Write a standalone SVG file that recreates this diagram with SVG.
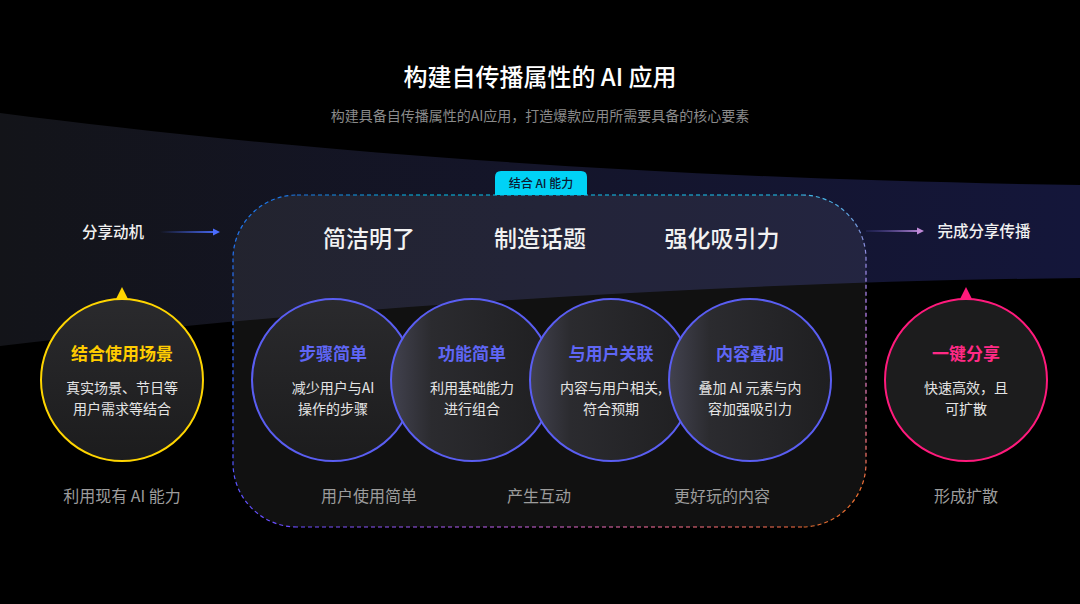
<svg xmlns="http://www.w3.org/2000/svg" width="1080" height="604" viewBox="0 0 1080 604">
<defs>
<style>
text{font-family:"Noto Sans CJK SC","Noto Sans",sans-serif;text-anchor:middle}
.title{font-size:24px;font-weight:500;fill:#ffffff}
.sub{font-size:14px;fill:#8a8a8a}
.side{font-size:15.5px;font-weight:500;fill:#f0f0f0}
.head{font-size:23px;font-weight:500;fill:#f2f2f2}
.ct{font-size:17px;font-weight:700}
.cb{font-size:14px;fill:#e4e4e4}
.bot{font-size:16px;fill:#9c9c9c}
.tab{font-size:12px;font-weight:500;fill:#0b1a33}
.dash{fill:none;stroke-width:1.2;stroke-dasharray:4 3}
.blue{stroke:#5a5ef2;stroke-width:2}
.bt{fill:#5f66f5}
</style>
<linearGradient id="band" x1="0" y1="0" x2="1" y2="0">
<stop offset="0" stop-color="#131419"/>
<stop offset="0.5" stop-color="#14152a"/>
<stop offset="1" stop-color="#14163a"/>
</linearGradient>
<linearGradient id="cfillA" x1="0" y1="0" x2="0" y2="1">
<stop offset="0" stop-color="#2a2a2d"/>
<stop offset="1" stop-color="#1c1c1d"/>
</linearGradient>
<linearGradient id="cfillB" x1="0" y1="0" x2="1" y2="0">
<stop offset="0" stop-color="#42424f"/>
<stop offset="0.25" stop-color="#2b2b2f"/>
<stop offset="1" stop-color="#1f1f21"/>
</linearGradient>
<linearGradient id="arrL" gradientUnits="userSpaceOnUse" x1="160" y1="0" x2="220" y2="0">
<stop offset="0" stop-color="#4a6cff" stop-opacity="0"/>
<stop offset="1" stop-color="#4a6cff"/>
</linearGradient>
<linearGradient id="arrR" gradientUnits="userSpaceOnUse" x1="866" y1="0" x2="924" y2="0">
<stop offset="0" stop-color="#4040a0" stop-opacity="0.2"/>
<stop offset="1" stop-color="#c890e0"/>
</linearGradient>
<linearGradient id="bL" gradientUnits="userSpaceOnUse" x1="0" y1="527" x2="0" y2="195">
<stop offset="0" stop-color="#6a4cff"/>
<stop offset="0.4" stop-color="#3a60ff"/>
<stop offset="1" stop-color="#1a78e8"/>
</linearGradient>
<linearGradient id="bT" gradientUnits="userSpaceOnUse" x1="297" y1="0" x2="802" y2="0">
<stop offset="0" stop-color="#1a78e8"/>
<stop offset="0.25" stop-color="#00c4f0"/>
<stop offset="1" stop-color="#20c8f4"/>
</linearGradient>
<linearGradient id="bR" gradientUnits="userSpaceOnUse" x1="0" y1="195" x2="0" y2="527">
<stop offset="0" stop-color="#40b8e8"/>
<stop offset="0.12" stop-color="#8090d8"/>
<stop offset="0.35" stop-color="#c088ff"/>
<stop offset="0.7" stop-color="#ff7a9a"/>
<stop offset="0.88" stop-color="#f07030"/>
<stop offset="1" stop-color="#e06a30"/>
</linearGradient>
<linearGradient id="bB" gradientUnits="userSpaceOnUse" x1="297" y1="0" x2="802" y2="0">
<stop offset="0" stop-color="#6a4cff"/>
<stop offset="0.4" stop-color="#c060f0"/>
<stop offset="0.7" stop-color="#ff70a0"/>
<stop offset="1" stop-color="#ff7040"/>
</linearGradient>
</defs>

<rect width="1080" height="604" fill="#000"/>
<path d="M0,113 C250,145 600,178 1080,185 L1080,278 C700,282 300,310 0,346 Z" fill="url(#band)"/>

<text class="title" x="540" y="86">构建自传播属性的 AI 应用</text>
<text class="sub" x="540" y="121">构建具备自传播属性的AI应用，打造爆款应用所需要具备的核心要素</text>

<g id="ai-box">
<rect x="233" y="195" width="633" height="332" rx="64" fill="#ffffff" fill-opacity="0.065"/>
</g>

<g id="node-scene">
<circle cx="122" cy="380" r="81" fill="url(#cfillA)" stroke="#ffd500" stroke-width="2"/>
<polygon points="122,287 128,299 116,299" fill="#ffd500"/>
<text class="ct" x="122" y="360" fill="#ffcc00">结合使用场景</text>
<text class="cb" x="122" y="393">真实场景、节日等</text>
<text class="cb" x="122" y="414">用户需求等结合</text>
</g>

<g id="node-steps">
<circle cx="333" cy="380" r="81" fill="url(#cfillA)" class="blue"/>
<text class="ct bt" x="333" y="360">步骤简单</text>
<text class="cb" x="333" y="393">减少用户与AI</text>
<text class="cb" x="333" y="414">操作的步骤</text>
</g>
<g id="node-func">
<circle cx="472" cy="380" r="81" fill="url(#cfillB)" class="blue"/>
<text class="ct bt" x="472" y="360">功能简单</text>
<text class="cb" x="472" y="393">利用基础能力</text>
<text class="cb" x="472" y="414">进行组合</text>
</g>
<g id="node-user">
<circle cx="611" cy="380" r="81" fill="url(#cfillB)" class="blue"/>
<text class="ct bt" x="611" y="360">与用户关联</text>
<text class="cb" x="611" y="393">内容与用户相关,</text>
<text class="cb" x="611" y="414">符合预期</text>
</g>
<g id="node-content">
<circle cx="750" cy="380" r="81" fill="url(#cfillB)" class="blue"/>
<text class="ct bt" x="750" y="360">内容叠加</text>
<text class="cb" x="750" y="393">叠加 AI 元素与内</text>
<text class="cb" x="750" y="414">容加强吸引力</text>
</g>

<g id="node-share">
<circle cx="966" cy="380" r="81" fill="#1c1c1d" stroke="#ff1a7c" stroke-width="2"/>
<polygon points="966,287 972,299 960,299" fill="#ff1a7c"/>
<text class="ct" x="966" y="360" fill="#ff2a85">一键分享</text>
<text class="cb" x="966" y="393">快速高效，且</text>
<text class="cb" x="966" y="414">可扩散</text>
</g>

<g id="ai-border">
<path class="dash" stroke="url(#bL)" d="M297,527 A64,64 0 0 1 233,463 L233,259 A64,64 0 0 1 297,195"/>
<path class="dash" stroke="url(#bT)" d="M297,195 L802,195"/>
<path class="dash" stroke="url(#bR)" d="M802,195 A64,64 0 0 1 866,259 L866,463 A64,64 0 0 1 802,527"/>
<path class="dash" stroke="url(#bB)" d="M802,527 L297,527"/>
<path d="M495,195 V177 Q495,171 501,171 H581 Q587,171 587,177 V195 Z" fill="#00d2f6"/>
<text class="tab" x="541" y="188">结合 AI 能力</text>
</g>

<g id="connectors">
<line x1="160" y1="232" x2="214" y2="232" stroke="url(#arrL)" stroke-width="2"/>
<polygon points="213,228.5 220,232 213,235.5" fill="#4a6cff"/>
<line x1="866" y1="231" x2="918" y2="231" stroke="url(#arrR)" stroke-width="2"/>
<polygon points="917,227.5 924,231 917,234.5" fill="#c08ad8"/>
</g>

<g id="labels">
<text class="side" x="113" y="238">分享动机</text>
<text class="side" x="984" y="237">完成分享传播</text>
<text class="head" x="369" y="247">简洁明了</text>
<text class="head" x="540" y="247">制造话题</text>
<text class="head" x="722" y="247">强化吸引力</text>
<text class="bot" x="122" y="502">利用现有 AI 能力</text>
<text class="bot" x="369" y="502">用户使用简单</text>
<text class="bot" x="539" y="502">产生互动</text>
<text class="bot" x="722" y="502">更好玩的内容</text>
<text class="bot" x="966" y="502">形成扩散</text>
</g>
</svg>
